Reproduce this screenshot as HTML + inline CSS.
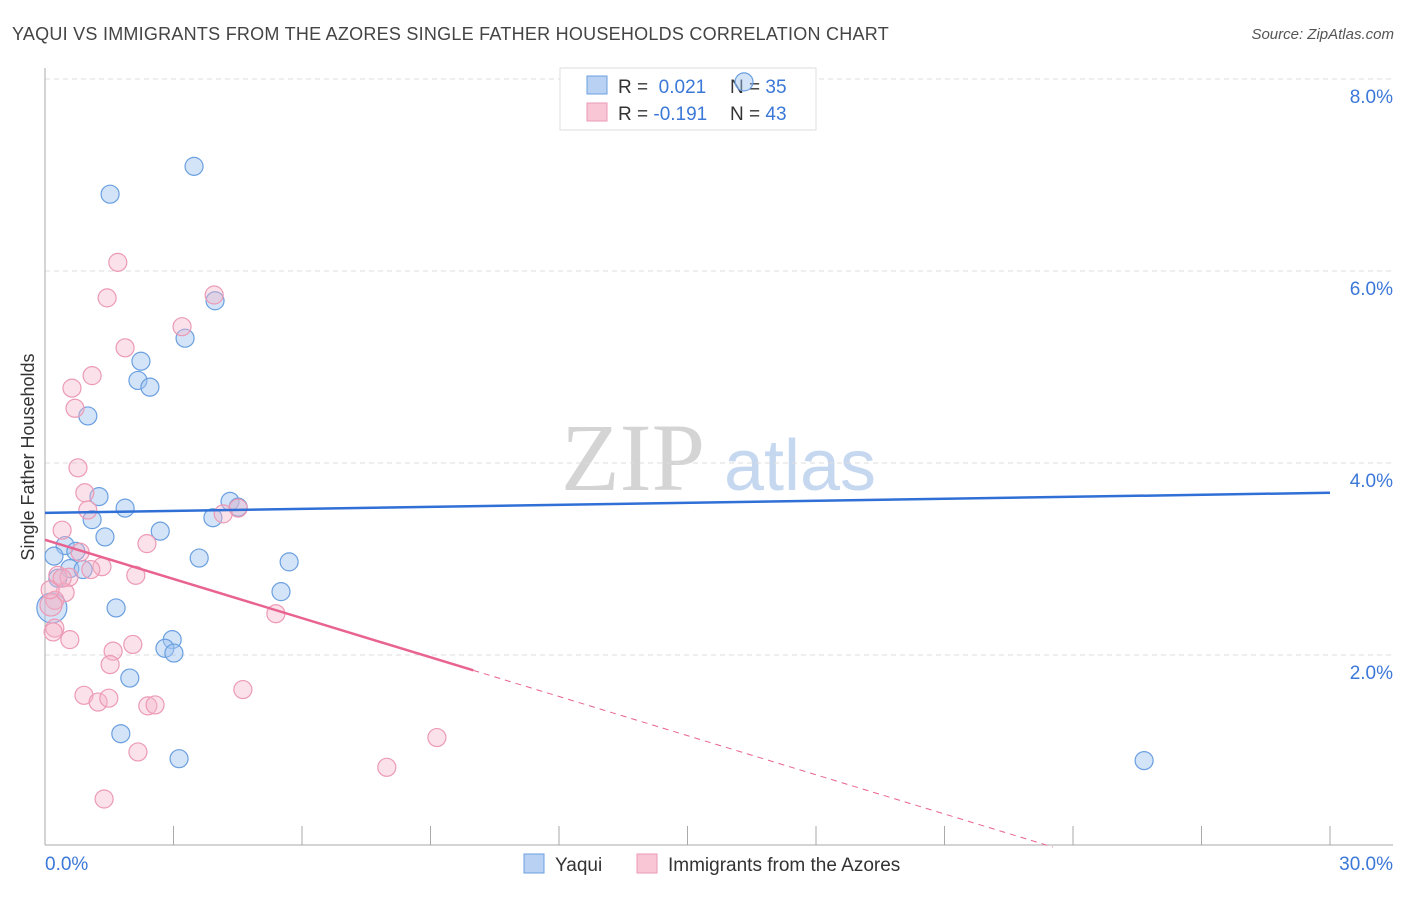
<!DOCTYPE html>
<html><head><meta charset="utf-8"><style>
body{margin:0;background:#fff;font-family:"Liberation Sans",sans-serif}
svg text{font-family:"Liberation Sans",sans-serif}
</style></head><body>
<svg width="1406" height="892">
<text x="12" y="40" font-size="18" fill="#444" letter-spacing="0.25">YAQUI VS IMMIGRANTS FROM THE AZORES SINGLE FATHER HOUSEHOLDS CORRELATION CHART</text>
<text x="1394" y="39" font-size="15" fill="#555" text-anchor="end" font-style="italic">Source: ZipAtlas.com</text>
<text x="633" y="490" font-size="96" fill="#d4d4d4" text-anchor="middle" style="font-family:'Liberation Serif',serif">ZIP</text>
<text x="800" y="490" font-size="72" fill="#c5d8f0" text-anchor="middle">atlas</text>
<g id="grid"></g>
<g id="axes"></g>
<text transform="translate(34,457) rotate(-90)" font-size="18" fill="#333" text-anchor="middle">Single Father Households</text>
<g>
<rect x="560" y="68" width="256" height="62" fill="#fff" stroke="#ddd"/>
<rect x="587" y="76" width="20" height="18" fill="#b9d2f3" stroke="#6a9fe0"/>
<rect x="587" y="103" width="20" height="18" fill="#f9c6d6" stroke="#ec9ab5"/>
<text x="618" y="93" font-size="19" fill="#333">R = <tspan fill="#3b78d8">&#160;0.021</tspan></text>
<text x="730" y="93" font-size="19" fill="#333">N = <tspan fill="#3b78d8">35</tspan></text>
<text x="618" y="120" font-size="19" fill="#333">R = <tspan fill="#3b78d8">-0.191</tspan></text>
<text x="730" y="120" font-size="19" fill="#333">N = <tspan fill="#3b78d8">43</tspan></text>
</g>
<g id="pts"></g>
<g id="lines"></g>
<g>
<rect x="524" y="854" width="20" height="19" fill="#b9d2f3" stroke="#6a9fe0"/>
<text x="555" y="871" font-size="19" fill="#333">Yaqui</text>
<rect x="637" y="854" width="20" height="19" fill="#f9c6d6" stroke="#ec9ab5"/>
<text x="668" y="871" font-size="19" fill="#333">Immigrants from the Azores</text>
</g>
</svg>
<script>
const yaquiX=[1.52,3.48,16.32,3.97,3.27,2.24,2.17,2.45,1.00,1.26,1.87,1.10,4.32,4.51,3.92,2.69,1.40,0.47,0.72,0.21,3.60,5.70,0.58,0.89,0.30,5.51,1.66,0.16,2.97,2.80,3.01,1.98,1.77,3.13,25.66];
const yaquiY=[6.80,7.09,7.97,5.69,5.30,5.06,4.86,4.79,4.49,3.65,3.53,3.41,3.60,3.54,3.43,3.29,3.23,3.14,3.08,3.03,3.01,2.97,2.90,2.89,2.80,2.66,2.49,2.49,2.16,2.07,2.02,1.76,1.18,0.92,0.90];
const azoresX=[1.70,1.45,3.95,3.20,1.87,1.10,0.63,0.70,0.77,0.93,1.00,4.51,4.16,0.40,2.38,0.82,0.30,1.33,1.07,2.12,0.56,0.47,0.23,0.14,5.39,0.23,0.19,0.58,2.05,1.59,1.52,4.62,0.91,1.24,1.49,2.40,2.57,2.17,9.15,7.98,1.38,0.12,0.40];
const azoresY=[6.09,5.72,5.75,5.42,5.20,4.91,4.78,4.57,3.95,3.69,3.51,3.53,3.47,3.30,3.16,3.07,2.83,2.92,2.89,2.83,2.81,2.65,2.57,2.52,2.43,2.28,2.24,2.16,2.11,2.04,1.90,1.64,1.58,1.51,1.55,1.47,1.48,0.99,1.14,0.83,0.50,2.68,2.80];
const yTicks=[2,4,6,8];
const xTicks=[0,3,6,9,12,15,18,21,24,27,30];
const yaquiTrend=[3.48,3.69];
const azoresTrend=[3.20,-0.136];
const NS='http://www.w3.org/2000/svg';
const X=v=>45+v*1285/30, Y=v=>847-v*96;
function mk(t,a,p){const e=document.createElementNS(NS,t);for(const k in a)e.setAttribute(k,a[k]);document.getElementById(p).appendChild(e);return e;}
yTicks.forEach(t=>{
 const l=mk('line',{x1:45,x2:1393,y1:Y(t),y2:Y(t),stroke:'#ddd','stroke-dasharray':'5,4'},'grid');
 
 
 const tx=mk('text',{x:1393,y:Y(t)+24,'font-size':19,fill:'#3b78d8','text-anchor':'end'},'grid');
 tx.textContent=t.toFixed(1)+'%';
 
 
});
mk('line',{x1:45,x2:45,y1:68,y2:845,stroke:'#aaa'},'axes');
mk('line',{x1:45,x2:1393,y1:845,y2:845,stroke:'#aaa'},'axes');
xTicks.forEach(t=>{
 const l=mk('line',{x1:X(t),x2:X(t),y1:826,y2:845,stroke:'#aaa'},'axes');
 
 
});
[[0,'0.0%',45,'start'],[30,'30.0%',1393,'end']].forEach(d=>{
 const tx=mk('text',{x:d[2],y:870,'font-size':19,fill:'#3b78d8','text-anchor':d[3]},'axes');
 tx.textContent=d[1];
 
 
});
yaquiX.forEach((x,i)=>{
 const c=mk('circle',{cx:X(x),cy:Y(yaquiY[i]),r:(i==27?15:9),fill:'rgba(160,196,240,0.45)',stroke:'#6a9fe0','stroke-width':1.2},'pts');
 
 
});
azoresX.forEach((x,i)=>{
 const c=mk('circle',{cx:X(x),cy:Y(azoresY[i]),r:(i==23?11:9),fill:'rgba(245,180,200,0.4)',stroke:'#ec9ab5','stroke-width':1.2},'pts');
 
 
});
let l=mk('line',{x1:X(0),y1:Y(yaquiTrend[0]),x2:X(30),y2:Y(yaquiTrend[1]),stroke:'#2f6fd6','stroke-width':2.5},'lines');


const az=x=>azoresTrend[0]+azoresTrend[1]*x;
l=mk('line',{x1:X(0),y1:Y(az(0)),x2:X(10),y2:Y(az(10)),stroke:'#e8638f','stroke-width':2.5},'lines');


const xe=azoresTrend[0]/-azoresTrend[1];
l=mk('line',{x1:X(10),y1:Y(az(10)),x2:X(xe),y2:Y(0),stroke:'#e8638f','stroke-width':1,'stroke-dasharray':'6,5'},'lines');


</script>
</body></html>
